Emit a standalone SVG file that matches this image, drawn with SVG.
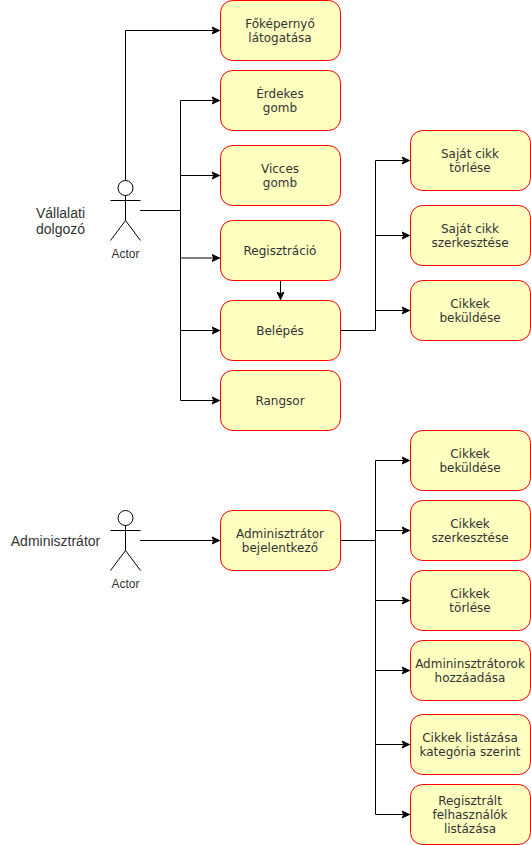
<svg xmlns="http://www.w3.org/2000/svg" width="531" height="845" viewBox="0 0 531 845">
<style>
.n{fill:#ffffc0;stroke:#ff0000;stroke-width:1}
.t{font-family:"DejaVu Sans",Verdana,sans-serif;font-size:12px;fill:#333;text-anchor:middle}
.c{fill:none;stroke:#000;stroke-width:1}
.s{fill:#fff;stroke:#000;stroke-width:1}
.a{font-family:"Liberation Sans",Arial,sans-serif;font-size:12px;fill:#333;text-anchor:middle}
.l{font-family:"Liberation Sans",Arial,sans-serif;font-size:14px;fill:#333;text-anchor:middle}
</style>
<defs>
<marker id="arrow" markerUnits="userSpaceOnUse" markerWidth="9" markerHeight="10" refX="8" refY="4.5" orient="auto"><path d="M0.5 1 L8 4.5 L0.5 8 L2.3 4.5 Z" fill="#000" stroke="#000"/></marker>
<g id="actor"><circle cx="15" cy="7.5" r="7.5" class="s"/><path d="M15 15V40M0 20H30M15 40L0 60M15 40L30 60" class="c"/></g>
</defs>
<rect width="531" height="845" fill="#fff"/>
<g id="connectors" class="c">
<path class="c" marker-end="url(#arrow)" d="M125.500 180V30.500H219.500"/>
<path class="c" marker-end="url(#arrow)" d="M140 210.500H180.500V100.500H219.500"/>
<path class="c" marker-end="url(#arrow)" d="M180.500 175.500H219.500"/>
<path class="c" marker-end="url(#arrow)" d="M180.500 210.500V258H219.500"/>
<path class="c" marker-end="url(#arrow)" d="M180.500 258V330.500H219.500"/>
<path class="c" marker-end="url(#arrow)" d="M180.500 330.500V400.500H219.500"/>
<path class="c" marker-end="url(#arrow)" d="M280.500 280.500V299.500"/>
<path class="c" marker-end="url(#arrow)" d="M340.500 330.500H375.500V160.500H409.500"/>
<path class="c" marker-end="url(#arrow)" d="M375.500 235.500H409.500"/>
<path class="c" marker-end="url(#arrow)" d="M375.500 310.500H409.500"/>
<path class="c" marker-end="url(#arrow)" d="M140 540.500H219.500"/>
<path class="c" marker-end="url(#arrow)" d="M340.500 540.500H375.500V460.500H409.500"/>
<path class="c" marker-end="url(#arrow)" d="M375.500 530.500H409.500"/>
<path class="c" marker-end="url(#arrow)" d="M375.500 540.500V600.500H409.500"/>
<path class="c" marker-end="url(#arrow)" d="M375.500 600.500V670.500H409.500"/>
<path class="c" marker-end="url(#arrow)" d="M375.500 670.500V744.500H409.500"/>
<path class="c" marker-end="url(#arrow)" d="M375.500 744.500V814.500H409.500"/>
</g>
<g id="actor1"><use href="#actor" x="110.500" y="180.500"/><text class="a" x="125.500" y="258">Actor</text></g>
<g id="actor2"><use href="#actor" x="110.500" y="510.500"/><text class="a" x="125.500" y="588">Actor</text></g>
<text class="l" x="60.500" y="218">Vállalati</text>
<text class="l" x="60.500" y="234">dolgozó</text>
<text class="l" x="55.500" y="546">Adminisztrátor</text>
<g id="n1"><rect class="n" x="220.500" y="0.500" width="120" height="60" rx="12"/><text class="t" x="280" y="28">Főképernyő</text><text class="t" x="280" y="42">látogatása</text></g>
<g id="n2"><rect class="n" x="220.500" y="70.500" width="120" height="60" rx="12"/><text class="t" x="280" y="98">Érdekes</text><text class="t" x="280" y="112">gomb</text></g>
<g id="n3"><rect class="n" x="220.500" y="145.500" width="120" height="60" rx="12"/><text class="t" x="280" y="173">Vicces</text><text class="t" x="280" y="187">gomb</text></g>
<g id="n4"><rect class="n" x="220.500" y="220.500" width="120" height="60" rx="12"/><text class="t" x="280" y="255">Regisztráció</text></g>
<g id="n5"><rect class="n" x="220.500" y="300.500" width="120" height="60" rx="12"/><text class="t" x="280" y="335">Belépés</text></g>
<g id="n6"><rect class="n" x="220.500" y="370.500" width="120" height="60" rx="12"/><text class="t" x="280" y="405">Rangsor</text></g>
<g id="n7"><rect class="n" x="410.500" y="130.500" width="120" height="60" rx="12"/><text class="t" x="470" y="158">Saját cikk</text><text class="t" x="470" y="172">törlése</text></g>
<g id="n8"><rect class="n" x="410.500" y="205.500" width="120" height="60" rx="12"/><text class="t" x="470" y="233">Saját cikk</text><text class="t" x="470" y="247">szerkesztése</text></g>
<g id="n9"><rect class="n" x="410.500" y="280.500" width="120" height="60" rx="12"/><text class="t" x="470" y="308">Cikkek</text><text class="t" x="470" y="322">beküldése</text></g>
<g id="n10"><rect class="n" x="220.500" y="510.500" width="120" height="60" rx="12"/><text class="t" x="280" y="538">Adminisztrátor</text><text class="t" x="280" y="552">bejelentkező</text></g>
<g id="n11"><rect class="n" x="410.500" y="430.500" width="120" height="60" rx="12"/><text class="t" x="470" y="458">Cikkek</text><text class="t" x="470" y="472">beküldése</text></g>
<g id="n12"><rect class="n" x="410.500" y="500.500" width="120" height="60" rx="12"/><text class="t" x="470" y="528">Cikkek</text><text class="t" x="470" y="542">szerkesztése</text></g>
<g id="n13"><rect class="n" x="410.500" y="570.500" width="120" height="60" rx="12"/><text class="t" x="470" y="598">Cikkek</text><text class="t" x="470" y="612">törlése</text></g>
<g id="n14"><rect class="n" x="410.500" y="640.500" width="120" height="60" rx="12"/><text class="t" x="470" y="668">Admininsztrátorok</text><text class="t" x="470" y="682">hozzáadása</text></g>
<g id="n15"><rect class="n" x="410.500" y="714.500" width="120" height="60" rx="12"/><text class="t" x="470" y="742">Cikkek listázása</text><text class="t" x="470" y="756">kategória szerint</text></g>
<g id="n16"><rect class="n" x="410.500" y="784.500" width="120" height="60" rx="12"/><text class="t" x="470" y="805">Regisztrált</text><text class="t" x="470" y="819">felhasználók</text><text class="t" x="470" y="833">listázása</text></g>
</svg>
